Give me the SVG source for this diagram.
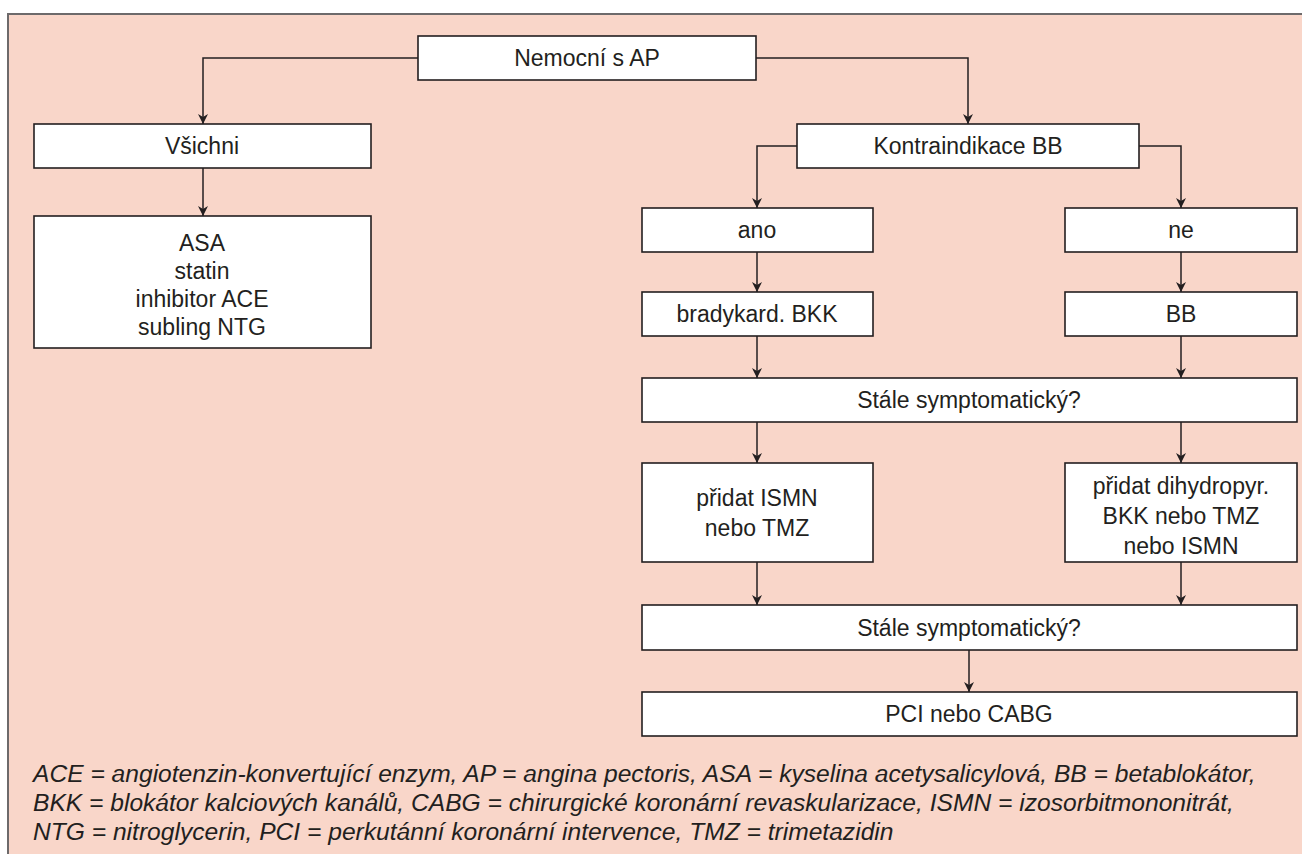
<svg xmlns="http://www.w3.org/2000/svg" width="1302" height="854" viewBox="0 0 1302 854">
<style>
.bg{fill:#f9d6c9;stroke:#6d6a6b;stroke-width:2}
.box{fill:#ffffff;stroke:#231f20;stroke-width:1.6}
.t{font-family:"Liberation Sans",Arial,sans-serif;font-size:23px;fill:#231f20;text-anchor:middle}
.lg{font-family:"Liberation Sans",Arial,sans-serif;font-size:24.6px;fill:#231f20;font-style:italic}
.c{fill:none;stroke:#231f20;stroke-width:1.5}
</style>
<defs>
<marker id="ah" viewBox="0 0 10 10" refX="10" refY="5" markerWidth="10" markerHeight="10" markerUnits="userSpaceOnUse" orient="auto">
<path d="M0,0 L10,5 L0,10 L3,5 Z" fill="#231f20"/>
</marker>
</defs>
<rect class="bg" x="8" y="14" width="1300" height="850"/>
<g id="connectors">
<path class="c" d="M418,58 H203 V124" marker-end="url(#ah)"/>
<path class="c" d="M756,58 H968 V124" marker-end="url(#ah)"/>
<path class="c" d="M203,168 V216" marker-end="url(#ah)"/>
<path class="c" d="M797,146 H757 V208" marker-end="url(#ah)"/>
<path class="c" d="M1139,146 H1181 V208" marker-end="url(#ah)"/>
<path class="c" d="M757,252 V292" marker-end="url(#ah)"/>
<path class="c" d="M1181,252 V292" marker-end="url(#ah)"/>
<path class="c" d="M757,336 V378" marker-end="url(#ah)"/>
<path class="c" d="M1181,336 V378" marker-end="url(#ah)"/>
<path class="c" d="M757,422 V463" marker-end="url(#ah)"/>
<path class="c" d="M1181,422 V463" marker-end="url(#ah)"/>
<path class="c" d="M757,562 V605" marker-end="url(#ah)"/>
<path class="c" d="M1181,562 V605" marker-end="url(#ah)"/>
<path class="c" d="M969,650 V692" marker-end="url(#ah)"/>
</g>
<g id="n-nemocni"><rect class="box" x="418" y="36" width="338" height="44"/><text class="t" x="587" y="66">Nemocní s AP</text></g>
<g id="n-vsichni"><rect class="box" x="34" y="124" width="337" height="44"/><text class="t" x="202" y="154">Všichni</text></g>
<g id="n-asa"><rect class="box" x="34" y="216" width="337" height="132"/>
<text class="t" x="202" y="251">ASA</text><text class="t" x="202" y="279">statin</text><text class="t" x="202" y="307">inhibitor ACE</text><text class="t" x="202" y="335">subling NTG</text></g>
<g id="n-kontra"><rect class="box" x="797" y="124" width="342" height="44"/><text class="t" x="968" y="154">Kontraindikace BB</text></g>
<g id="n-ano"><rect class="box" x="642" y="208" width="231" height="44"/><text class="t" x="757" y="238">ano</text></g>
<g id="n-ne"><rect class="box" x="1065" y="208" width="232" height="44"/><text class="t" x="1181" y="238">ne</text></g>
<g id="n-brady"><rect class="box" x="642" y="292" width="231" height="44"/><text class="t" x="757" y="322">bradykard. BKK</text></g>
<g id="n-bb"><rect class="box" x="1065" y="292" width="232" height="44"/><text class="t" x="1181" y="322">BB</text></g>
<g id="n-stale1"><rect class="box" x="642" y="378" width="655" height="44"/><text class="t" x="969" y="408">Stále symptomatický?</text></g>
<g id="n-ismn"><rect class="box" x="642" y="463" width="231" height="99"/><text class="t" x="757" y="506">přidat ISMN</text><text class="t" x="757" y="536">nebo TMZ</text></g>
<g id="n-dihydro"><rect class="box" x="1065" y="463" width="232" height="99"/><text class="t" x="1181" y="494">přidat dihydropyr.</text><text class="t" x="1181" y="524">BKK nebo TMZ</text><text class="t" x="1181" y="554">nebo ISMN</text></g>
<g id="n-stale2"><rect class="box" x="642" y="605" width="655" height="45"/><text class="t" x="969" y="636">Stále symptomatický?</text></g>
<g id="n-pci"><rect class="box" x="642" y="692" width="655" height="44"/><text class="t" x="969" y="722">PCI nebo CABG</text></g>
<g id="legend">
<text class="lg" x="33" y="782">ACE = angiotenzin-konvertující enzym, AP = angina pectoris, ASA = kyselina acetysalicylová, BB = betablokátor,</text>
<text class="lg" x="33" y="811">BKK = blokátor kalciových kanálů, CABG = chirurgické koronární revaskularizace, ISMN = izosorbitmononitrát,</text>
<text class="lg" x="33" y="840">NTG = nitroglycerin, PCI = perkutánní koronární intervence, TMZ = trimetazidin</text>
</g>
</svg>
